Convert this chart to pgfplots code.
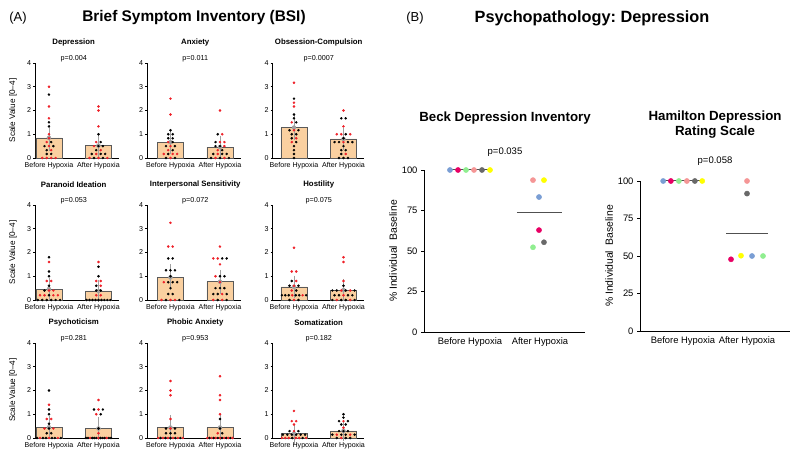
\documentclass[border=0pt]{standalone}
\usepackage{pgfplots}
\usepackage{pgfplotstable}
\pgfplotsset{compat=1.18}
\usepackage{fontspec}
\setmainfont{Liberation Sans}
\setsansfont{Liberation Sans}
\frenchspacing

\definecolor{barfill}{RGB}{250,208,160}
\definecolor{bardraw}{RGB}{90,90,90}
\definecolor{dotred}{RGB}{238,32,40}
\definecolor{errgray}{RGB}{160,160,160}
\definecolor{cblue}{RGB}{122,158,212}
\definecolor{cmag}{RGB}{232,0,100}
\definecolor{cgreen}{RGB}{144,238,144}
\definecolor{cpink}{RGB}{245,150,150}
\definecolor{cgray}{RGB}{105,105,105}
\definecolor{cyellow}{RGB}{255,255,0}
\definecolor{meangray}{RGB}{80,80,80}

% ---------------- BSI dot data (x = 0 before, 1 after) ----------------
\pgfplotstableread{
x y c
0 3.0 r
0 2.67 k
0 2.17 r
0 1.67 r
0 1.5 k
0 1.33 k
0 1.0 r
0 0.83 r
-0.045 0.67 r
0.045 0.67 k
-0.09 0.5 k
0 0.5 r
0.09 0.5 k
-0.045 0.33 k
0.045 0.33 r
-0.045 0.17 k
0.045 0.17 k
-0.135 0 r
-0.045 0 r
0.045 0 r
0.135 0 r
1 2.17 r
1 2.0 r
1 1.33 r
1 1.0 k
0.955 0.67 r
1.045 0.67 k
0.91 0.5 r
1 0.5 k
1.09 0.5 k
0.955 0.33 k
1.045 0.33 r
0.865 0.17 k
0.955 0.17 r
1.045 0.17 k
1.135 0.17 k
0.82 0 r
0.91 0 k
1 0 r
1.09 0 k
1.18 0 r
}\dotDep
\pgfplotstableread{
x y e
0 0.85 0.20
1 0.52 0.13
}\barDep

\pgfplotstableread{
x y c
0 2.5 r
0 1.83 r
0 1.17 k
-0.045 1.0 k
0.045 1.0 k
-0.045 0.83 k
0.045 0.83 k
-0.045 0.67 r
0.045 0.67 k
-0.09 0.5 k
0 0.5 r
0.09 0.5 k
-0.045 0.33 r
0.045 0.33 k
-0.135 0.17 r
-0.045 0.17 k
0.045 0.17 r
0.135 0.17 r
-0.09 0 k
0 0 r
0.09 0 k
1 2.0 r
0.955 1.0 k
1.045 1.0 r
0.91 0.67 k
1 0.67 r
1.09 0.67 r
0.91 0.5 k
1 0.5 k
1.09 0.5 r
0.955 0.33 r
1.045 0.33 k
0.865 0.17 k
0.955 0.17 r
1.045 0.17 k
1.135 0.17 k
0.82 0 k
0.91 0 r
1 0 k
1.09 0 r
1.18 0 k
}\dotAnx
\pgfplotstableread{
x y e
0 0.67 0.13
1 0.46 0.11
}\barAnx

\pgfplotstableread{
x y c
0 3.17 r
0 2.5 k
0 2.33 r
0 2.17 r
0 1.83 k
0 1.67 k
-0.045 1.5 r
0.045 1.5 k
-0.09 1.17 k
0 1.17 r
0.09 1.17 k
-0.045 1.0 k
0.045 1.0 k
-0.045 0.83 k
0.045 0.83 r
-0.045 0.67 r
0.045 0.67 k
0 0.5 k
0 0.33 k
0 0.17 k
0 0 k
1 2.0 r
0.955 1.67 k
1.045 1.67 k
1 1.33 r
0.865 1.0 r
0.955 1.0 r
1.045 1.0 k
1.135 1.0 r
1 0.83 k
0.82 0.67 k
0.91 0.67 k
1 0.67 r
1.09 0.67 k
1.18 0.67 k
1 0.5 k
0.955 0.33 k
1.045 0.33 k
0.955 0.17 k
1.045 0.17 r
0.91 0 k
1 0 k
1.09 0 k
}\dotOC
\pgfplotstableread{
x y e
0 1.28 0.17
1 0.80 0.12
}\barOC

\pgfplotstableread{
x y c
0 1.8 k
0 1.6 r
0 1.2 k
0 1.0 k
-0.045 0.8 r
0.045 0.8 r
0 0.6 k
-0.09 0.4 k
0 0.4 r
0.09 0.4 r
-0.18 0.2 r
-0.09 0.2 r
0 0.2 k
0.09 0.2 r
0.18 0.2 r
-0.225 0 k
-0.135 0 k
-0.045 0 k
0.045 0 k
0.135 0 k
0.225 0 k
1 1.6 r
1 1.4 k
1 1.0 k
0.955 0.8 r
1.045 0.8 r
0.955 0.6 k
1.045 0.6 r
0.955 0.4 k
1.045 0.4 k
0.955 0.2 r
1.045 0.2 r
0.76 0 k
0.82 0 k
0.88 0 k
0.94 0 k
1 0 k
1.06 0 k
1.12 0 k
1.18 0 k
1.24 0 k
}\dotPar
\pgfplotstableread{
x y e
0 0.46 0.12
1 0.38 0.10
}\barPar

\pgfplotstableread{
x y c
0 3.25 r
-0.045 2.25 r
0.045 2.25 r
-0.045 1.75 k
0.045 1.75 k
-0.09 1.25 k
0 1.25 k
0.09 1.25 k
0 1.0 k
-0.135 0.75 r
-0.045 0.75 k
0.045 0.75 k
0.135 0.75 k
0 0.5 k
-0.045 0.25 k
0.045 0.25 k
-0.18 0 r
-0.09 0 k
0 0 r
0.09 0 r
0.18 0 k
1 2.25 r
0.865 1.75 r
0.955 1.75 r
1.045 1.75 k
1.135 1.75 k
1 1.5 r
0.91 1.0 r
1 1.0 k
1.09 1.0 k
1 0.75 r
0.91 0.5 k
1 0.5 k
1.09 0.5 k
0.865 0.25 k
0.955 0.25 k
1.045 0.25 r
1.135 0.25 k
0.865 0 r
0.955 0 k
1.045 0 r
1.135 0 k
}\dotInt
\pgfplotstableread{
x y e
0 0.95 0.19
1 0.77 0.14
}\barInt

\pgfplotstableread{
x y c
0 2.2 r
-0.045 1.2 r
0.045 1.2 r
-0.045 0.8 k
0.045 0.8 r
-0.09 0.6 k
0 0.6 r
0.09 0.6 k
-0.045 0.4 r
0.045 0.4 k
-0.245 0.2 k
-0.175 0.2 k
-0.105 0.2 k
-0.035 0.2 r
0.035 0.2 k
0.105 0.2 k
0.175 0.2 r
0.245 0.2 k
-0.09 0 k
0 0 r
0.09 0 k
1 1.8 r
1 1.6 r
1 0.8 r
1 0.6 k
0.775 0.4 k
0.865 0.4 k
0.955 0.4 r
1.045 0.4 k
1.135 0.4 r
1.225 0.4 k
0.82 0.2 k
0.91 0.2 k
1 0.2 r
1.09 0.2 k
1.18 0.2 k
0.775 0 k
0.865 0 r
0.955 0 k
1.045 0 k
1.135 0 r
1.225 0 k
}\dotHos
\pgfplotstableread{
x y e
0 0.55 0.12
1 0.42 0.11
}\barHos

\pgfplotstableread{
x y c
0 2.0 k
0 1.4 r
0 1.2 k
0 1.0 k
-0.045 0.8 r
0.045 0.8 r
0 0.6 k
-0.09 0.4 r
0 0.4 k
0.09 0.4 r
-0.045 0.2 k
0.045 0.2 k
-0.24 0 k
-0.18 0 r
-0.12 0 k
-0.06 0 k
0 0 r
0.06 0 k
0.12 0 k
0.18 0 r
0.24 0 k
1 1.6 r
0.91 1.2 k
1 1.2 r
1.09 1.2 k
0.955 1.0 r
1.045 1.0 k
1 0.4 k
1 0.2 r
0.748 0 k
0.79 0 k
0.832 0 r
0.874 0 k
0.916 0 k
0.958 0 k
1 0 r
1.042 0 k
1.084 0 k
1.126 0 k
1.168 0 r
1.21 0 k
1.252 0 k
}\dotPsy
\pgfplotstableread{
x y e
0 0.45 0.12
1 0.40 0.12
}\barPsy

\pgfplotstableread{
x y c
0 2.4 r
0 2.0 r
0 1.8 r
0 0.8 r
-0.09 0.4 k
0 0.4 r
0.09 0.4 k
-0.09 0.2 k
0 0.2 k
0.09 0.2 k
-0.25 0 r
-0.2 0 k
-0.15 0 r
-0.1 0 k
-0.05 0 r
0 0 k
0.05 0 r
0.1 0 k
0.15 0 r
0.2 0 k
0.25 0 r
1 2.6 r
1 1.8 r
1 1.6 r
1 1.0 r
1 0.8 k
1 0.4 k
0.955 0.2 r
1.045 0.2 k
0.748 0 r
0.79 0 k
0.832 0 r
0.874 0 k
0.916 0 r
0.958 0 k
1 0 r
1.042 0 k
1.084 0 r
1.126 0 k
1.168 0 r
1.21 0 k
1.252 0 r
}\dotPho
\pgfplotstableread{
x y e
0 0.44 0.15
1 0.44 0.15
}\barPho

\pgfplotstableread{
x y c
0 1.14 r
-0.045 0.71 r
0.045 0.71 r
0 0.57 r
-0.09 0.29 k
0 0.29 r
0.09 0.29 k
-0.225 0.14 k
-0.135 0.14 k
-0.045 0.14 k
0.045 0.14 k
0.135 0.14 k
0.225 0.14 k
-0.245 0 r
-0.175 0 r
-0.105 0 r
-0.035 0 k
0.035 0 r
0.105 0 r
0.175 0 k
0.245 0 r
1 1.0 k
1 0.86 k
0.91 0.71 k
1 0.71 r
1.09 0.71 k
0.955 0.57 k
1.045 0.57 k
1 0.43 r
0.91 0.29 k
1 0.29 k
1.09 0.29 k
0.775 0.14 k
0.865 0.14 r
0.955 0.14 k
1.045 0.14 k
1.135 0.14 r
1.225 0.14 k
0.865 0 k
0.955 0 r
1.045 0 k
1.135 0 k
}\dotSom
\pgfplotstableread{
x y e
0 0.18 0.07
1 0.30 0.06
}\barSom

% ---------------- Depression panel data ----------------
\pgfplotstableread{
x y c
0.714 100 b
0.829 100 m
0.943 100 g
1.057 100 p
1.171 100 d
1.286 100 y
1.90 93.75 p
2.057 93.75 y
1.986 83.3 b
1.986 62.9 m
2.057 55.4 d
1.90 52.3 g
}\beck
\pgfplotstableread{
x y c
0.69 100 b
0.81 100 m
0.935 100 g
1.06 100 p
1.185 100 d
1.30 100 y
2.0 100 p
2.0 91.6 d
1.75 47.8 m
1.906 50.2 y
2.078 50 b
2.25 50 g
}\hamilton

\pgfplotsset{
  bsi/.style={
    anchor=south west,
    x=49.5pt, y=23.75pt,
    ymin=0, ymax=4, xmax=1.42,
    axis x line*=bottom, axis y line*=left,
    axis line style={line width=0.6pt, black},
    ytick={0,1,2,3,4},
    xtick={0,1}, xticklabels={Before Hypoxia, After Hypoxia},
    x tick style={draw=none},
    y tick style={black, line width=0.5pt},
    tick align=outside, major tick length=2pt,
    tick label style={font=\fontsize{7.1}{8}\selectfont},
    yticklabel style={xshift=1.5pt},
    xticklabel style={yshift=1.5pt},
    /pgf/number format/assume math mode=true,
    clip=false,
  },
  dep/.style={
    anchor=south west,
    ymin=0, ymax=100,
    axis x line*=bottom, axis y line*=left,
    axis line style={line width=0.9pt, black},
    ytick={0,25,50,75,100},
    xtick={1,2}, xticklabels={Before Hypoxia, After Hypoxia},
    x tick style={draw=none},
    y tick style={black, line width=0.8pt},
    tick align=outside, major tick length=3pt,
    tick label style={font=\fontsize{9.4}{10}\selectfont},
    xticklabel style={yshift=1pt},
    /pgf/number format/assume math mode=true,
    clip=false,
  },
}

\newcommand{\bsiplot}[7]{%
\begin{axis}[bsi, at={(#1pt,#2pt)}, xmin=#3]
  \addplot[ybar, bar width=0.53, bar shift=0pt, fill=barfill, draw=bardraw, line width=0.6pt] table[x=x, y=y] {#6};
  \addplot[only marks, mark=none, errgray, error bars/.cd, y dir=both, y explicit,
     error bar style={errgray, line width=0.6pt},
     error mark options={errgray, mark size=8.5pt, line width=0.6pt}] table[x=x, y=y, y error=e] {#6};
  \addplot[scatter, only marks, scatter src=explicit symbolic,
     scatter/classes={r={mark=*, fill=dotred, draw=dotred, mark size=1.05pt},
                      k={mark=*, fill=black, draw=black, mark size=1.05pt}}]
     table[x=x, y=y, meta=c] {#7};
  \node[font=\bfseries\fontsize{7.8}{9}\selectfont] at (axis cs:0.5,4) [yshift=20.5pt] {#4};
  \node[font=\fontsize{7.2}{8}\selectfont, anchor=south, inner sep=0.6pt] at (axis cs:0.5,4) {#5};
\end{axis}}

\begin{document}
\begin{tikzpicture}
\useasboundingbox (0,0) rectangle (800pt,458pt);

% headings
\node[font=\fontsize{13}{15}\selectfont] at (18pt,440pt) {(A)};
\node[font=\bfseries\fontsize{15.4}{17}\selectfont] at (194pt,440pt) {Brief Symptom Inventory (BSI)};
\node[font=\fontsize{13}{15}\selectfont] at (415pt,440pt) {(B)};
\node[font=\bfseries\fontsize{16.3}{18}\selectfont] at (592pt,440pt) {Psychopathology: Depression};

% y labels of panel A
\node[rotate=90, font=\fontsize{8.2}{9}\selectfont] at (13pt,347.5pt) {Scale Value [0--4]};
\node[rotate=90, font=\fontsize{8.2}{9}\selectfont] at (13pt,205.5pt) {Scale Value [0--4]};
\node[rotate=90, font=\fontsize{8.2}{9}\selectfont] at (13pt,68pt) {Scale Value [0--4]};

% row 1
\bsiplot{35.1}{300}{-0.28}{Depression}{p=0.004}{\barDep}{\dotDep}
\bsiplot{147.2}{300}{-0.47}{Anxiety}{p=0.011}{\barAnx}{\dotAnx}
\bsiplot{272.7}{300}{-0.43}{Obsession-Compulsion}{p=0.0007}{\barOC}{\dotOC}
% row 2
\bsiplot{35.1}{158}{-0.28}{Paranoid Ideation}{p=0.053}{\barPar}{\dotPar}
\bsiplot{147.2}{158}{-0.47}{Interpersonal Sensitivity}{p=0.072}{\barInt}{\dotInt}
\bsiplot{272.7}{158}{-0.43}{Hostility}{p=0.075}{\barHos}{\dotHos}
% row 3
\bsiplot{35.1}{20}{-0.28}{Psychoticism}{p=0.281}{\barPsy}{\dotPsy}
\bsiplot{147.2}{20}{-0.47}{Phobic Anxiety}{p=0.953}{\barPho}{\dotPho}
\bsiplot{272.7}{20}{-0.43}{Somatization}{p=0.182}{\barSom}{\dotSom}

% Beck
\begin{axis}[dep, at={(424pt,126pt)}, x=70pt, y=1.62pt, xmin=0.343, xmax=2.64,
   ylabel={\%\ Individual\ \ Baseline}, ylabel style={font=\fontsize{10.4}{12}\selectfont, yshift=-2pt}]
  \addplot[meangray, line width=1pt] coordinates {(0.714,100) (1.286,100)};
  \addplot[meangray, line width=1pt] coordinates {(1.671,73.75) (2.314,73.75)};
  \addplot[scatter, only marks, scatter src=explicit symbolic,
     scatter/classes={b={mark=*, fill=cblue, draw=cblue, mark size=2.6pt},
                      m={mark=*, fill=cmag, draw=cmag, mark size=2.6pt},
                      g={mark=*, fill=cgreen, draw=cgreen, mark size=2.6pt},
                      p={mark=*, fill=cpink, draw=cpink, mark size=2.6pt},
                      d={mark=*, fill=cgray, draw=cgray, mark size=2.6pt},
                      y={mark=*, fill=cyellow, draw=cyellow, mark size=2.6pt}}]
     table[x=x, y=y, meta=c] {\beck};
  \node[font=\bfseries\fontsize{13.3}{15}\selectfont] at (axis cs:1.5,100) [yshift=52pt] {Beck Depression Inventory};
  \node[font=\fontsize{9.5}{11}\selectfont] at (axis cs:1.5,100) [yshift=18pt] {p=0.035};
\end{axis}

% Hamilton
\begin{axis}[dep, at={(640pt,127pt)}, x=64pt, y=1.5pt, xmin=0.328, xmax=2.67,
   ylabel={\%\ Individual\ \ Baseline}, ylabel style={font=\fontsize{10.4}{12}\selectfont, yshift=-2pt}]
  \addplot[meangray, line width=1pt] coordinates {(0.69,100) (1.30,100)};
  \addplot[meangray, line width=1pt] coordinates {(1.672,65) (2.328,65)};
  \addplot[scatter, only marks, scatter src=explicit symbolic,
     scatter/classes={b={mark=*, fill=cblue, draw=cblue, mark size=2.6pt},
                      m={mark=*, fill=cmag, draw=cmag, mark size=2.6pt},
                      g={mark=*, fill=cgreen, draw=cgreen, mark size=2.6pt},
                      p={mark=*, fill=cpink, draw=cpink, mark size=2.6pt},
                      d={mark=*, fill=cgray, draw=cgray, mark size=2.6pt},
                      y={mark=*, fill=cyellow, draw=cyellow, mark size=2.6pt}}]
     table[x=x, y=y, meta=c] {\hamilton};
  \node[font=\bfseries\fontsize{13.3}{15}\selectfont, align=center] at (axis cs:1.5,100) [yshift=56.5pt] {Hamilton Depression\\Rating Scale};
  \node[font=\fontsize{9.5}{11}\selectfont] at (axis cs:1.5,100) [yshift=20pt] {p=0.058};
\end{axis}
\end{tikzpicture}
\end{document}
